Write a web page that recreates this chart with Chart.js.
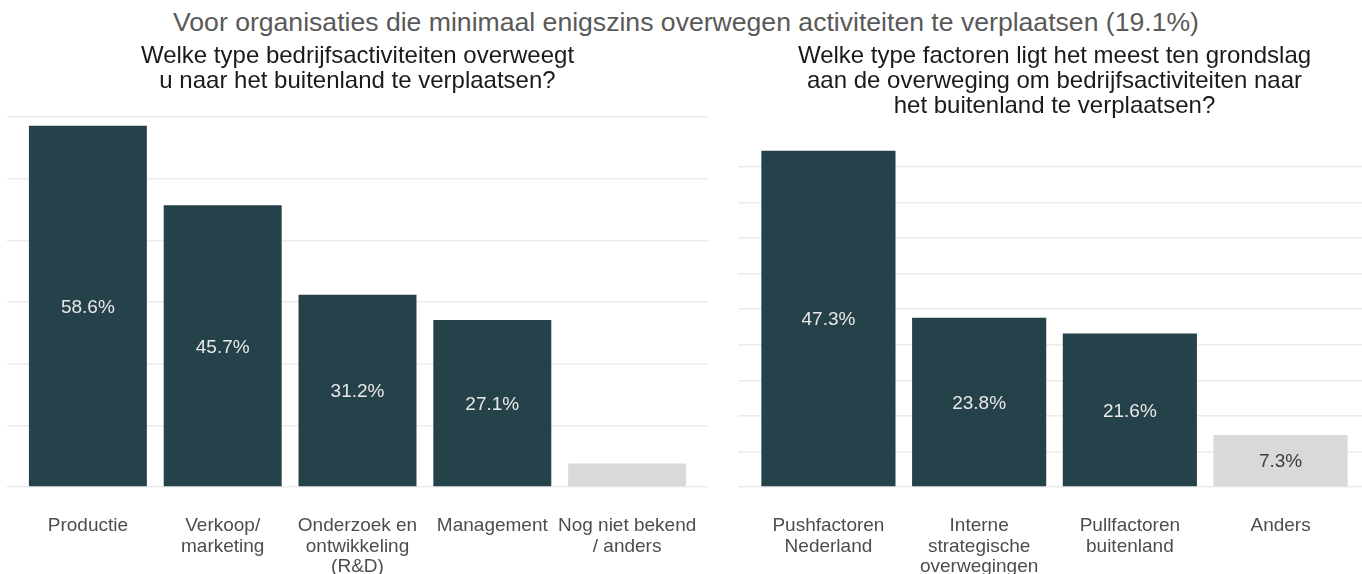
<!DOCTYPE html>
<html>
<head>
<meta charset="utf-8">
<script src="https://cdn.jsdelivr.net/npm/chart.js@4.4.1/dist/chart.umd.min.js"></script>
<style>
  html, body { margin: 0; padding: 0; background: #fff; overflow: hidden; width: 1362px; height: 574px; }
  #sub { position: absolute; left: 5px; top: 7px; width: 1362px; text-align: center; white-space: nowrap;
         font: 26.6px "Liberation Sans", Arial, sans-serif; color: #595959; }
  .box { position: absolute; top: 36px; height: 540px; }
  #left { left: 0; width: 715px; }
  #right { left: 730px; width: 650px; }
</style>
</head>
<body>
<div id="sub">Voor organisaties die minimaal enigszins overwegen activiteiten te verplaatsen (19.1%)</div>
<div class="box" id="left"><canvas id="chart-activiteiten"></canvas></div>
<div class="box" id="right"><canvas id="chart-factoren"></canvas></div>
<script>
const FONT = '"Liberation Sans", Arial, sans-serif';
const DARK = '#25414a';
const GREY = '#d9d9d9';

// left panel: type bedrijfsactiviteiten
const activiteitTitle = ['Welke type bedrijfsactiviteiten overweegt', 'u naar het buitenland te verplaatsen?'];
const activiteitLabels = [['Productie'], ['Verkoop/', 'marketing'], ['Onderzoek en', 'ontwikkeling', '(R&D)'], ['Management'], ['Nog niet bekend', '/ anders']];
const activiteitValues = [58.6, 45.7, 31.2, 27.1, 3.8];

// right panel: type factoren
const factorTitle = ['Welke type factoren ligt het meest ten grondslag', 'aan de overweging om bedrijfsactiviteiten naar', 'het buitenland te verplaatsen?'];
const factorLabels = [['Pushfactoren', 'Nederland'], ['Interne', 'strategische', 'overwegingen'], ['Pullfactoren', 'buitenland'], ['Anders']];
const factorValues = [47.3, 23.8, 21.6, 7.3];

// value labels in the middle of each bar (small bars get none)
const barLabels = {
  id: 'barLabels',
  afterDatasetsDraw(chart) {
    const ctx = chart.ctx;
    const pts = chart.data.datasets[0].data;
    ctx.save();
    ctx.font = '19px ' + FONT;
    ctx.textAlign = 'center';
    ctx.textBaseline = 'middle';
    chart.getDatasetMeta(0).data.forEach((bar, i) => {
      if (pts[i].y < 5) return;
      ctx.fillStyle = i === pts.length - 1 ? '#3c3c3c' : '#e8e8e8';
      ctx.fillText(pts[i].y.toFixed(1) + '%', bar.x, (bar.y + bar.base) / 2 + 1.5);
    });
    ctx.restore();
  }
};

function makeChart(id, title, labels, values, opts) {
  return new Chart(document.getElementById(id), {
    type: 'bar',
    data: {
      datasets: [{
        data: values.map((v, i) => ({ x: i, y: v })),
        backgroundColor: c => c.dataIndex === values.length - 1 ? GREY : DARK,
        borderWidth: 0,
        categoryPercentage: 1,
        barPercentage: opts.barPct
      }]
    },
    options: {
      responsive: true,
      maintainAspectRatio: false,
      animation: false,
      layout: { padding: { left: opts.padLeft, right: opts.padRight } },
      plugins: {
        legend: { display: false },
        tooltip: { enabled: false },
        title: {
          display: true,
          text: title,
          color: '#1a1a1a',
          font: { family: FONT, size: 24, weight: 'normal', lineHeight: 25 / 24 },
          padding: { top: 8, bottom: opts.titleGap }
        }
      },
      scales: {
        x: {
          type: 'linear',
          offset: false,
          min: -0.6,
          max: opts.xMax,
          grid: { display: false, offset: false },
          border: { display: false },
          afterBuildTicks: s => { s.ticks = labels.map((_, i) => ({ value: i })); },
          afterFit: s => { s.paddingLeft = 0; s.paddingRight = 0; s.height = 89; },
          ticks: {
            autoSkip: false,
            maxRotation: 0,
            padding: 20,
            color: '#4d4d4d',
            font: { family: FONT, size: 19, lineHeight: 1.1 },
            callback: v => labels[v]
          }
        },
        y: {
          min: 0,
          max: opts.yMax,
          border: { display: false },
          grid: { color: '#ebebeb', lineWidth: 1.5, drawTicks: false },
          ticks: { display: false, stepSize: opts.yStep, includeBounds: false }
        }
      }
    },
    plugins: [barLabels]
  });
}

makeChart('chart-activiteiten', activiteitTitle, activiteitLabels, activiteitValues,
  { yMax: 61.5, yStep: 10, xMax: 4.6, barPct: 0.875, padLeft: 7, padRight: 7, titleGap: 14 });
makeChart('chart-factoren', factorTitle, factorLabels, factorValues,
  { yMax: 49.5, yStep: 5, xMax: 3.6, barPct: 0.89, padLeft: 8, padRight: 9, titleGap: 16 });
</script>
</body>
</html>
